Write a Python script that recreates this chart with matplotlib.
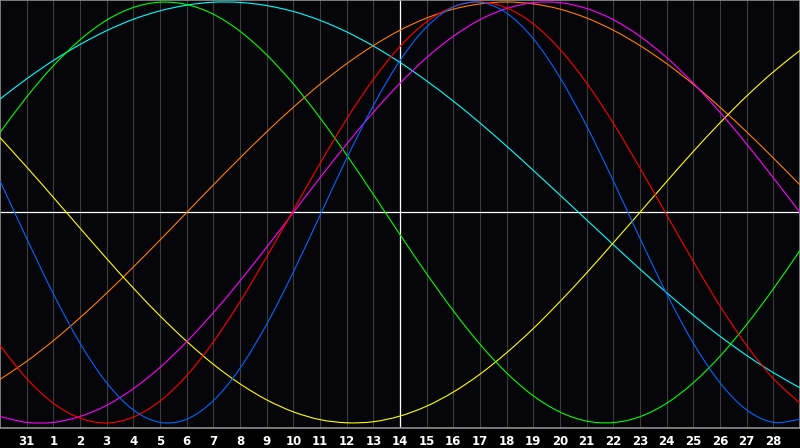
import matplotlib
matplotlib.use("Agg")
import matplotlib.pyplot as plt
from matplotlib.path import Path
from matplotlib.patches import PathPatch

# day slots: 0 = Jan 30 ... 30 = Mar 1 (only 31..28 are labelled)
days = list(range(31))
tick_pos = list(range(1, 30))
tick_labels = ['31'] + [str(d) for d in range(1, 29)]

red = [-0.632, -0.789, -0.906, -0.977, -1.000, -0.972, -0.896, -0.775, -0.615, -0.424,
       -0.211, 0.011, 0.233, 0.444, 0.632, 0.789, 0.906, 0.977, 1.000, 0.972,
       0.896, 0.775, 0.615, 0.424, 0.211, -0.011, -0.233, -0.444, -0.632, -0.789, -0.906]
blue = [0.150, -0.123, -0.386, -0.621, -0.809, -0.938, -0.997, -0.982, -0.894, -0.740,
        -0.531, -0.283, -0.014, 0.257, 0.508, 0.722, 0.882, 0.976, 0.999, 0.947,
        0.825, 0.641, 0.411, 0.150, -0.123, -0.386, -0.621, -0.809, -0.938, -0.997, -0.982]
green = [0.380, 0.549, 0.697, 0.820, 0.914, 0.974, 0.999, 0.988, 0.942, 0.861,
         0.749, 0.611, 0.450, 0.273, 0.086, -0.105, -0.291, -0.467, -0.626, -0.762,
         -0.871, -0.948, -0.991, -0.998, -0.970, -0.906, -0.809, -0.683, -0.532, -0.363, -0.180]
cyan = [0.539, 0.635, 0.722, 0.798, 0.864, 0.918, 0.958, 0.985, 0.999, 0.998,
        0.983, 0.955, 0.913, 0.858, 0.791, 0.713, 0.625, 0.529, 0.425, 0.315,
        0.200, 0.083, -0.035, -0.153, -0.269, -0.381, -0.488, -0.588, -0.679, -0.761, -0.833]
magenta = [-0.969, -0.997, -0.997, -0.969, -0.916, -0.837, -0.736, -0.614, -0.476, -0.325,
           -0.165, 0.0, 0.165, 0.325, 0.476, 0.614, 0.736, 0.837, 0.916, 0.969,
           0.997, 0.997, 0.969, 0.916, 0.837, 0.736, 0.614, 0.476, 0.325, 0.165, 0.0]
orange = [-0.793, -0.707, -0.609, -0.500, -0.383, -0.259, -0.131, 0.0, 0.131, 0.259,
          0.383, 0.500, 0.609, 0.707, 0.793, 0.866, 0.924, 0.966, 0.991, 1.000,
          0.991, 0.966, 0.924, 0.866, 0.793, 0.707, 0.609, 0.500, 0.383, 0.259, 0.131]
yellow = [0.356, 0.216, 0.072, -0.074, -0.219, -0.359, -0.491, -0.612, -0.721, -0.814,
          -0.890, -0.947, -0.984, -0.999, -0.994, -0.967, -0.920, -0.853, -0.768, -0.666,
          -0.551, -0.423, -0.287, -0.144, 0.001, 0.147, 0.290, 0.426, 0.553, 0.668, 0.770]

series = [
    (cyan, '#00ffff'),
    (orange, '#ff8000'),
    (yellow, '#ffff00'),
    (green, '#00ff00'),
    (magenta, '#ff00ff'),
    (red, '#ff0000'),
    (blue, '#0066ff'),
]


def smooth_path(xs, ys):
    # catmull-rom through the daily points, drawn as cubic beziers
    n = len(xs)
    verts = [(xs[0], ys[0])]
    codes = [Path.MOVETO]
    for i in range(n - 1):
        i0 = max(i - 1, 0)
        i3 = min(i + 2, n - 1)
        c1 = (xs[i] + (xs[i + 1] - xs[i0]) / 6, ys[i] + (ys[i + 1] - ys[i0]) / 6)
        c2 = (xs[i + 1] - (xs[i3] - xs[i]) / 6, ys[i + 1] - (ys[i3] - ys[i]) / 6)
        verts += [c1, c2, (xs[i + 1], ys[i + 1])]
        codes += [Path.CURVE4] * 3
    return Path(verts, codes)


fig = plt.figure(figsize=(8, 4.48), dpi=100, facecolor='black')
ax = fig.add_axes([0, 20 / 448, 1, 428 / 448])
ax.set_facecolor('#060509')

for p in tick_pos:
    ax.axvline(p, color='#3c3c3c', lw=0.8, zorder=1)
ax.axvline(15, color='white', lw=0.9, zorder=2)
ax.axhline(0, color='white', lw=0.9, zorder=2)

for vals, col in series:
    ax.add_patch(PathPatch(smooth_path(days, vals), fill=False, edgecolor=col,
                           lw=0.8, zorder=3))

ax.set_xlim(0, 30)
ax.set_ylim(-1.0238, 1.0095)
ax.set_yticks([])
ax.set_xticks(tick_pos)
ax.set_xticklabels(tick_labels, color='white', fontsize=8.5, fontweight='bold')
ax.tick_params(axis='x', length=0, pad=5)
for s in ax.spines.values():
    s.set_color('#909090')
    s.set_linewidth(1.2)

fig.savefig('out.png', dpi=100, facecolor='black')
